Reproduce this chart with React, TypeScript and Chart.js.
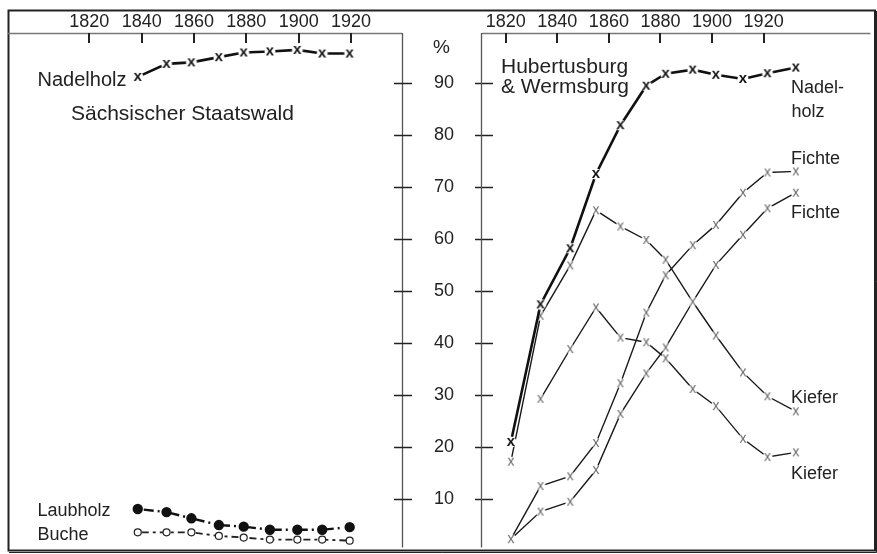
import React, { useEffect, useRef } from 'react';
import { Chart, registerables } from 'chart.js';

Chart.register(...registerables);

const FONT = '"Liberation Sans", Arial, Helvetica, sans-serif';

// Left panel: Sächsischer Staatswald
const leftYears = [1838.5, 1849.5, 1859, 1869.5, 1879, 1889, 1899.5, 1909, 1919.5];
const leftNadelholz = [91.2, 93.7, 94.0, 95.0, 95.9, 96.1, 96.4, 95.7, 95.7];
const leftLaubholz = [8.0, 7.4, 6.2, 4.9, 4.6, 4.0, 4.0, 4.0, 4.5];
const leftBuche = [3.5, 3.5, 3.5, 2.8, 2.5, 2.1, 2.1, 2.1, 1.9];

// Right panel: Hubertusburg & Wermsburg
const rightYears = [1822, 1833.5, 1845, 1855, 1864.5, 1874.5, 1882, 1892.5, 1901.5, 1912, 1921.5, 1932.5];
const rightNadelholz = [20.9, 47.4, 58.2, 72.5, 81.9, 89.5, 91.8, 92.6, 91.6, 90.8, 91.9, 93.0];
const kieferUpper = [17.1, 45.2, 54.9, 65.5, 62.4, 59.8, 56.0, 47.9, 41.4, 34.3, 29.7, 26.8];
const fichteUpper = [2.2, 12.4, 14.3, 20.7, 32.2, 45.8, 53.0, 58.8, 62.7, 68.9, 72.8, 73.0];
const fichteLower = [2.2, 7.5, 9.4, 15.5, 26.3, 34.1, 39.1, 47.9, 55.0, 60.8, 65.9, 68.9];
const kieferLower = [null, 29.2, 38.8, 46.8, 41.0, 40.1, 37.0, 31.1, 27.8, 21.5, 18.0, 18.9];

const yearTicks = [1820, 1840, 1860, 1880, 1900, 1920];
const percentTicks = [10, 20, 30, 40, 50, 60, 70, 80, 90];

const Y_MIN = 0.6;
const Y_MAX = 99.65;

function pts(xs: number[], ys: (number | null)[]) {
  const out: { x: number; y: number }[] = [];
  xs.forEach((x, i) => {
    const v = ys[i];
    if (v !== null && v !== undefined) out.push({ x, y: v });
  });
  return out;
}

function makeMarker(bold: boolean) {
  const size = 16;
  const c = document.createElement('canvas');
  c.width = size;
  c.height = size;
  const ctx = c.getContext('2d')!;
  ctx.fillStyle = '#ffffff';
  ctx.beginPath();
  ctx.arc(size / 2, size / 2, bold ? 5.5 : 5, 0, Math.PI * 2);
  ctx.fill();
  const fs = bold ? 15 : 14;
  ctx.fillStyle = bold ? '#111111' : '#6a6a6a';
  ctx.font = (bold ? 'bold ' : '') + fs + 'px ' + FONT;
  ctx.textAlign = 'center';
  ctx.textBaseline = 'alphabetic';
  ctx.fillText('x', size / 2, size / 2 + fs * 0.26);
  return c;
}

function text(ctx: CanvasRenderingContext2D, s: string, x: number, y: number, size: number) {
  ctx.font = size + 'px ' + FONT;
  ctx.fillStyle = '#222';
  ctx.textAlign = 'left';
  ctx.textBaseline = 'alphabetic';
  ctx.fillText(s, x, y);
}

function topTicks(ctx: CanvasRenderingContext2D, chart: any) {
  const xs = chart.scales.x;
  const top = chart.chartArea.top;
  ctx.strokeStyle = '#222';
  ctx.lineWidth = 2;
  yearTicks.forEach((t) => {
    const px = Math.round(xs.getPixelForValue(t));
    ctx.beginPath();
    ctx.moveTo(px, top);
    ctx.lineTo(px, top + 10);
    ctx.stroke();
  });
}

const leftDecor = {
  id: 'leftDecor',
  afterDraw(chart: any) {
    const ctx: CanvasRenderingContext2D = chart.ctx;
    const { left, right, top, bottom } = chart.chartArea;
    const ys = chart.scales.y;
    ctx.save();
    // outer frame of whole figure
    ctx.strokeStyle = '#222';
    ctx.lineWidth = 2;
    ctx.strokeRect(8.5, 10.5, 866.5, 540);
    ctx.lineWidth = 1;
    ctx.beginPath();
    ctx.moveTo(876.5, 11);
    ctx.lineTo(876.5, 552.5);
    ctx.moveTo(9, 552.5);
    ctx.lineTo(876.5, 552.5);
    ctx.stroke();
    // header separator
    ctx.strokeStyle = '#777';
    ctx.lineWidth = 1.5;
    ctx.beginPath();
    ctx.moveTo(left, top + 0.5);
    ctx.lineTo(right, top + 0.5);
    ctx.stroke();
    // right border of left panel
    ctx.strokeStyle = '#555';
    ctx.lineWidth = 1.3;
    ctx.beginPath();
    ctx.moveTo(right + 0.5, top);
    ctx.lineTo(right + 0.5, bottom);
    ctx.stroke();
    topTicks(ctx, chart);
    // middle axis tick marks crossing the panel borders
    ctx.strokeStyle = '#222';
    ctx.lineWidth = 1.5;
    percentTicks.forEach((t) => {
      const py = Math.round(ys.getPixelForValue(t)) + 0.5;
      ctx.beginPath();
      ctx.moveTo(right - 8, py);
      ctx.lineTo(right + 10, py);
      ctx.moveTo(right + 73, py);
      ctx.lineTo(right + 91, py);
      ctx.stroke();
    });
    text(ctx, '%', right + 31, top + 19.5, 19);
    text(ctx, 'Nadelholz', left + 29.5, 86, 20);
    text(ctx, 'Sächsischer Staatswald', left + 63, 120, 21);
    text(ctx, 'Laubholz', left + 29.5, 516, 18);
    text(ctx, 'Buche', left + 29.5, 539.5, 18);
    ctx.restore();
  },
};

const rightDecor = {
  id: 'rightDecor',
  afterDraw(chart: any) {
    const ctx: CanvasRenderingContext2D = chart.ctx;
    const { left, right, top, bottom } = chart.chartArea;
    ctx.save();
    ctx.strokeStyle = '#777';
    ctx.lineWidth = 1.5;
    ctx.beginPath();
    ctx.moveTo(left, top + 0.5);
    ctx.lineTo(right, top + 0.5);
    ctx.stroke();
    ctx.strokeStyle = '#555';
    ctx.lineWidth = 1.3;
    ctx.beginPath();
    ctx.moveTo(left - 0.5, top);
    ctx.lineTo(left - 0.5, bottom);
    ctx.stroke();
    topTicks(ctx, chart);
    text(ctx, 'Hubertusburg', left + 19, 72.7, 21);
    text(ctx, '& Wermsburg', left + 19, 93.3, 21);
    text(ctx, 'Nadel-', left + 309, 93.3, 18);
    text(ctx, 'holz', left + 309.5, 116.7, 18);
    text(ctx, 'Fichte', left + 309, 164, 18);
    text(ctx, 'Fichte', left + 309, 217.7, 18);
    text(ctx, 'Kiefer', left + 309, 402.7, 18);
    text(ctx, 'Kiefer', left + 309, 479, 18);
    ctx.restore();
  },
};

function noPad(scale: any) {
  scale.paddingTop = 0;
  scale.paddingBottom = 0;
  scale.paddingLeft = 0;
  scale.paddingRight = 0;
}

function xAxis(min: number, max: number) {
  return {
    type: 'linear' as const,
    position: 'top' as const,
    min,
    max,
    afterBuildTicks: (scale: any) => {
      scale.ticks = yearTicks.map((v) => ({ value: v }));
    },
    afterFit: (scale: any) => {
      scale.height = 23;
      noPad(scale);
    },
    grid: { display: false, drawTicks: false },
    border: { display: false },
    ticks: {
      padding: 0,
      autoSkip: false,
      maxRotation: 0,
      color: '#222',
      font: { family: FONT, size: 18 },
      callback: (v: any) => String(v),
    },
  };
}

export default function App() {
  const leftRef = useRef<HTMLCanvasElement>(null);
  const rightRef = useRef<HTMLCanvasElement>(null);

  useEffect(() => {
    const boldX = makeMarker(true);
    const thinX = makeMarker(false);

    const left = new Chart(leftRef.current!, {
      type: 'line',
      data: {
        datasets: [
          {
            label: 'Nadelholz',
            data: pts(leftYears, leftNadelholz),
            borderColor: '#111',
            borderWidth: 2.6,
            pointStyle: boldX as any,
            tension: 0,
          },
          {
            label: 'Laubholz',
            data: pts(leftYears, leftLaubholz),
            borderColor: '#111',
            borderWidth: 2.4,
            borderDash: [10, 4, 2, 10],
            borderDashOffset: 20,
            pointStyle: 'circle',
            pointRadius: 4,
            pointBackgroundColor: '#111',
            pointBorderColor: '#111',
            tension: 0,
          },
          {
            label: 'Buche',
            data: pts(leftYears, leftBuche),
            borderColor: '#222',
            borderWidth: 1.8,
            borderDash: [7, 4, 3, 4],
            borderDashOffset: 14,
            pointStyle: 'circle',
            pointRadius: 3.5,
            pointBorderWidth: 1.2,
            pointBackgroundColor: '#fff',
            pointBorderColor: '#222',
            tension: 0,
          },
        ],
      },
      options: {
        responsive: false,
        animation: false,
        events: [],
        layout: { padding: { left: 8, top: 10, right: 395, bottom: 4 } },
        plugins: { legend: { display: false }, tooltip: { enabled: false }, title: { display: false } },
        scales: {
          x: xAxis(1788.9, 1939.5),
          y: {
            type: 'linear',
            position: 'right',
            min: Y_MIN,
            max: Y_MAX,
            afterBuildTicks: (scale: any) => {
              scale.ticks = percentTicks.map((v) => ({ value: v }));
            },
            afterFit: (scale: any) => {
              scale.width = 80;
              noPad(scale);
            },
            grid: { display: false, drawTicks: false },
            border: { display: false },
            ticks: {
              padding: 32,
              color: '#222',
              font: { family: FONT, size: 18 },
              callback: (v: any) => String(v),
            },
          },
        },
      },
      plugins: [leftDecor],
    });

    const thin = (label: string, ys: (number | null)[]) => ({
      label,
      data: pts(rightYears, ys),
      borderColor: '#1a1a1a',
      borderWidth: 1.4,
      pointStyle: thinX as any,
      tension: 0,
    });

    const right = new Chart(rightRef.current!, {
      type: 'line',
      data: {
        datasets: [
          {
            label: 'Nadelholz',
            data: pts(rightYears, rightNadelholz),
            borderColor: '#111',
            borderWidth: 2.6,
            pointStyle: boldX as any,
            tension: 0,
          },
          thin('Kiefer (oben)', kieferUpper),
          thin('Fichte (oben)', fichteUpper),
          thin('Fichte (unten)', fichteLower),
          thin('Kiefer (unten)', kieferLower),
        ],
      },
      options: {
        responsive: false,
        animation: false,
        events: [],
        layout: { padding: { left: 482, top: 10, right: 2, bottom: 4 } },
        plugins: { legend: { display: false }, tooltip: { enabled: false }, title: { display: false } },
        scales: {
          x: xAxis(1810.8, 1961.4),
          y: { type: 'linear', display: false, min: Y_MIN, max: Y_MAX },
        },
      },
      plugins: [rightDecor],
    });

    return () => {
      left.destroy();
      right.destroy();
    };
  }, []);

  const canvasStyle: React.CSSProperties = { position: 'absolute', left: 0, top: 0 };
  return (
    <div style={{ position: 'absolute', left: 0, top: 0, width: 877, height: 554, background: '#fff' }}>
      <canvas ref={leftRef} width={877} height={554} style={canvasStyle} />
      <canvas ref={rightRef} width={877} height={554} style={canvasStyle} />
    </div>
  );
}
